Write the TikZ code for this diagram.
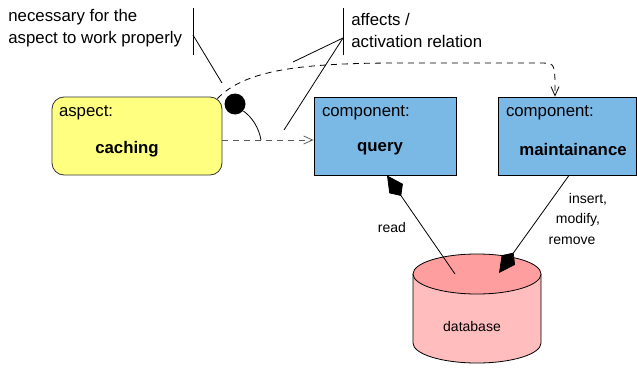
\documentclass[tikz,border=0pt]{standalone}
\usepackage{fontspec}
\setmainfont{Liberation Sans}
\usetikzlibrary{arrows.meta,positioning}
\definecolor{aspectyellow}{HTML}{FFFF80}
\definecolor{compblue}{HTML}{7AB8E6}
\definecolor{dbtop}{HTML}{FF9E9E}
\definecolor{dbside}{HTML}{FFBDBD}

\begin{document}
\begin{tikzpicture}[x=1pt,y=-1pt,line width=0.8pt,
    aspect node/.style={draw=black!80,fill=aspectyellow,rounded corners=12pt,minimum width=170pt,minimum height=78pt,inner sep=0pt},
    comp node/.style={draw,fill=compblue,minimum height=78pt,inner sep=0pt},
    kind text/.style={anchor=west,inner sep=0pt,font=\fontsize{16.8}{20}\selectfont},
    comp name/.style={inner sep=0pt,font=\fontsize{16.8}{20}\selectfont\bfseries},
    note text/.style={anchor=west,inner sep=0pt,align=left,font=\fontsize{16.8}{22}\selectfont},
    small text/.style={inner sep=0pt,font=\fontsize{14}{16}\selectfont},
    dot/.style={circle,fill=black,minimum size=21pt,inner sep=0pt},
    activates/.style={dashed,dash pattern=on 6pt off 5pt,draw=black!65,-{Straight Barb[length=9pt,width=8pt]}},
    affects/.style={dashed,dash pattern=on 6pt off 5pt,-{Straight Barb[length=9pt,width=8pt]}},
    access/.style={-{Stealth[length=16pt,width=16pt,inset=-9pt]}}]

  \useasboundingbox (0,0) rectangle (637,369);

  % boxes
  \node[aspect node] (aspect) at (137,136) {};
  \node[comp node,minimum width=142pt] (query) [shift={(248,0)}] at (aspect) {};
  \node[comp node,minimum width=138pt] (maint) [shift={(182,0)}] at (query) {};

  \node[kind text] (aspect-kind) [shift={(7,16)}] at (aspect.north west) {aspect:};
  \node[comp name] (aspect-name) [shift={(-10,13)}] at (aspect) {caching};
  \node[kind text] (query-kind) [shift={(8,16)}] at (query.north west) {component:};
  \node[comp name] (query-name) [shift={(-5,13)}] at (query) {query};
  \node[kind text] (maint-kind) [shift={(8,16)}] at (maint.north west) {component:};
  \node[comp name] (maint-name) [shift={(6,13)}] at (maint) {maintainance};

  % database
  \fill[dbside] (413,274) -- (413,343) arc[start angle=180,end angle=360,x radius=64pt,y radius=20pt] -- (541,274) -- cycle;
  \draw (413,274) -- (413,343) arc[start angle=180,end angle=360,x radius=64pt,y radius=20pt] -- (541,274);
  \draw[fill=dbtop] (477,274) ellipse[x radius=64pt,y radius=20pt];
  \node[small text] (db) at (472,326) {database};
  \coordinate (db-read) at (455,274);
  \coordinate (db-write) at (499,273);

  \draw[access] (db-read) -- ([xshift=2pt]query.south);
  \draw[access] ([xshift=2pt]maint.south) -- (db-write);
  \node[small text] (read) at (392,227) {read};
  \node[small text] (insert) at (588,199) {insert,};
  \node[small text] (modify) at (578,220) {modify,};
  \node[small text] (remove) at (572,241) {remove};

  % activation
  \draw[activates] ([yshift=-4pt]aspect.east) -- ([yshift=-4pt]query.west);
  \draw[affects] ([shift={(-5pt,-2pt)}]aspect.north east) .. controls (245,70) and (300,63) .. (400,63)
    -- (538,63) .. controls (554,63) .. (555,80) -- ([xshift=-12pt]maint.north);

  \node[dot] (dep) at (235,104) {};
  \coordinate (dep-end) at (261,140);
  \draw (dep.-40) .. controls (252,117) and (259,128) .. (dep-end);

  % annotations
  \node[note text] (need) at (8,28) {necessary for the\\aspect to work properly};
  \coordinate (need-top) at (193,8);
  \coordinate (need-bottom) at (193,55);
  \coordinate (need-mid) at (193,35);
  \coordinate (need-end) at (222,83);
  \draw (need-top) -- (need-bottom);
  \draw (need-mid) -- (need-end);

  \node[note text] (act) at (351,30) {affects /\\activation relation};
  \coordinate (act-top) at (343,8);
  \coordinate (act-bottom) at (343,55);
  \coordinate (act-mid) at (343,38);
  \coordinate (act-curve) at (293,62);
  \coordinate (act-line) at (284,130);
  \draw (act-top) -- (act-bottom);
  \draw (act-mid) -- (act-curve);
  \draw (act-mid) -- (act-line);

\end{tikzpicture}
\end{document}
